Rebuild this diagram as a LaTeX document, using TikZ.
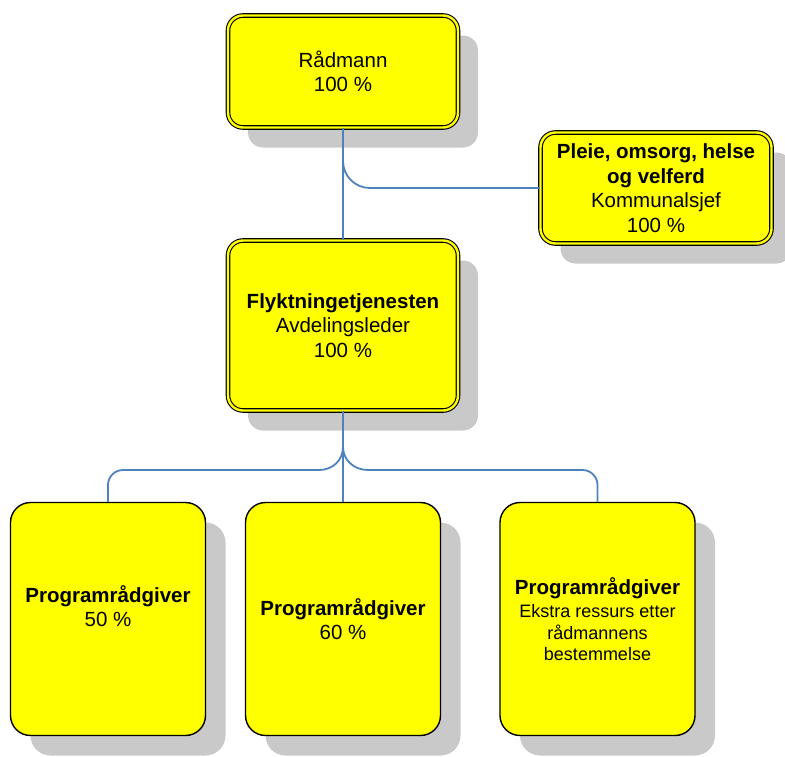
\documentclass[tikz,border=0pt]{standalone}
\usepackage{fontspec}
\setmainfont{Liberation Sans}
\usepackage{xcolor}
\usepackage{tikz}
\usetikzlibrary{shadows}

\definecolor{boxyellow}{RGB}{255,255,0}
\definecolor{linkblue}{HTML}{4F81BD}
\definecolor{shadowgray}{HTML}{C9C9C9}

\begin{document}
\begin{tikzpicture}[x=1pt,y=-1pt,
    box/.style={fill=boxyellow,align=center,inner sep=0pt,
        font=\fontsize{20.5}{24.5}\selectfont,
        drop shadow={shadow xshift=20pt,shadow yshift=-20pt,fill=shadowgray,opacity=1}},
    chief/.style={box,draw=black,double=boxyellow,double distance=2.4pt,line width=1.1pt,
        rounded corners=15pt},
    adviser/.style={box,draw=black,line width=1.4pt,rounded corners=20pt,
        minimum width=195pt,minimum height=233pt},
    link/.style={draw=linkblue,line width=1.8pt}]

\useasboundingbox (0,0) rectangle (785,756);

\node[chief,minimum width=230pt,minimum height=112pt] (R_0) at (343,71.5)
    {Rådmann\\100 \%};
\node[chief,minimum width=231pt,minimum height=111pt] (P_0) at (656,188)
    {\textbf{Pleie, omsorg, helse}\\\textbf{og velferd}\\Kommunalsjef\\100 \%};
\node[chief,minimum width=230pt,minimum height=170pt] (F_0) at (343,325.5)
    {\textbf{Flyktningetjenesten}\\Avdelingsleder\\100 \%};

\node[adviser] (G_1) at (108,619) {\textbf{Programrådgiver}\\50 \%\\[1pt]\mbox{}};
\node[adviser] (G_2) at (343,619) {\textbf{Programrådgiver}\\60 \%};
\node[adviser] (G_3) at (597.5,619)
    {\textbf{Programrådgiver}\\[-1pt]
     {\fontsize{18}{21.5}\selectfont Ekstra ressurs etter}\\[-3pt]
     {\fontsize{18}{21.5}\selectfont rådmannens}\\[-3pt]
     {\fontsize{18}{21.5}\selectfont bestemmelse}};

\coordinate (S_1) at (343,161);
\coordinate (S_2) at (343,447);

\draw[link] (R_0.south) -- (F_0.north);
\draw[link] (S_1) .. controls (343,176) and (355,188) .. (370,188) -- (P_0.west);

\draw[link] (F_0.south) -- (G_2.north);
\draw[link] (S_2) .. controls (343,460) and (333,470) .. (319,470)
    [rounded corners=15pt] -- (108,470) -- (G_1.north);
\draw[link] (S_2) .. controls (343,460) and (354,470) .. (368,470)
    [rounded corners=15pt] -- (597.5,470) -- (G_3.north);

\end{tikzpicture}
\end{document}
